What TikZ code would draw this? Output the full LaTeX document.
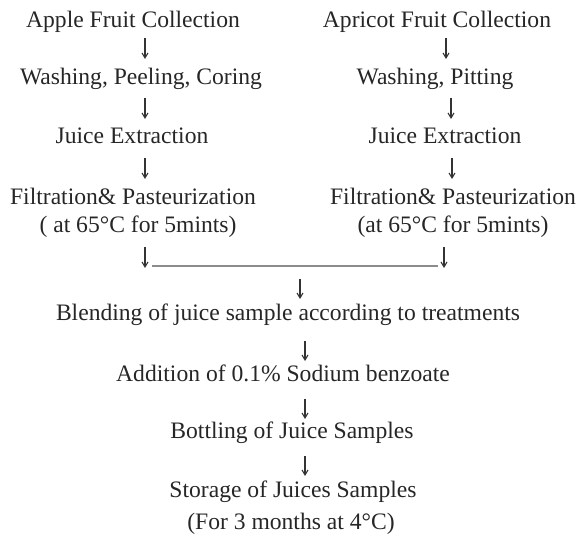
\documentclass[tikz,border=0pt]{standalone}
\usepackage{fontspec}
\setmainfont{Liberation Serif}
\usetikzlibrary{arrows.meta}
\begin{document}
\begin{tikzpicture}[x=1pt,y=-1pt,
  txt/.style={inner sep=0pt,anchor=base,text=black!85,font=\fontsize{23.6}{28}\selectfont},
  arr/.style={draw=black!80,line width=1.1pt,-{Straight Barb[length=5pt,width=6pt]}},
  hline/.style={draw=black!45,line width=1.6pt}]
\useasboundingbox (0,0) rectangle (582,537);
% left column
\node[txt] (a1) at (133,28) {Apple Fruit Collection};
\node[txt] (a2) at (141,85) {Washing, Peeling, Coring};
\node[txt] (a3) at (132,144) {Juice Extraction};
\node[txt] (a4) at (133,205) {Filtration\& Pasteurization};
\node[txt] (a5) at (138,233) {( at 65\textdegree C for 5mints)};
% right column
\node[txt] (b1) at (437,28) {Apricot Fruit Collection};
\node[txt] (b2) at (435,85) {Washing, Pitting};
\node[txt] (b3) at (445,144) {Juice Extraction};
\node[txt] (b4) at (453,205) {Filtration\& Pasteurization};
\node[txt] (b5) at (453,233) {(at 65\textdegree C for 5mints)};
% common
\node[txt] (c1) at (288,321) {Blending of juice sample according to treatments};
\node[txt] (c2) at (283,382) {Addition of 0.1\% Sodium benzoate};
\node[txt] (c3) at (292,439) {Bottling of Juice Samples};
\node[txt] (c4) at (293,498) {Storage of Juices Samples};
\node[txt] (c5) at (291,530) {(For 3 months at 4\textdegree C)};
% arrow end points
\coordinate (la1) at (145,38); \coordinate (la2) at (145,59);
\coordinate (lb1) at (145,98); \coordinate (lb2) at (145,119);
\coordinate (lc1) at (145,158); \coordinate (lc2) at (145,179);
\coordinate (ld1) at (145,247); \coordinate (ld2) at (145,268);
\coordinate (ra1) at (446,38); \coordinate (ra2) at (446,59);
\coordinate (rb1) at (451,98); \coordinate (rb2) at (451,119);
\coordinate (rc1) at (452,158); \coordinate (rc2) at (452,179);
\coordinate (rd1) at (444,247); \coordinate (rd2) at (444,268);
\coordinate (h1) at (152,266); \coordinate (h2) at (438,266);
\coordinate (ma1) at (300,279); \coordinate (ma2) at (300,299);
\coordinate (mb1) at (305,341); \coordinate (mb2) at (305,361);
\coordinate (mc1) at (305,399); \coordinate (mc2) at (305,419);
\coordinate (md1) at (305,456); \coordinate (md2) at (305,476);
\draw[arr] (la1) -- (la2);
\draw[arr] (lb1) -- (lb2);
\draw[arr] (lc1) -- (lc2);
\draw[arr] (ld1) -- (ld2);
\draw[arr] (ra1) -- (ra2);
\draw[arr] (rb1) -- (rb2);
\draw[arr] (rc1) -- (rc2);
\draw[arr] (rd1) -- (rd2);
\draw[hline] (h1) -- (h2);
\draw[arr] (ma1) -- (ma2);
\draw[arr] (mb1) -- (mb2);
\draw[arr] (mc1) -- (mc2);
\draw[arr] (md1) -- (md2);
\end{tikzpicture}
\end{document}
